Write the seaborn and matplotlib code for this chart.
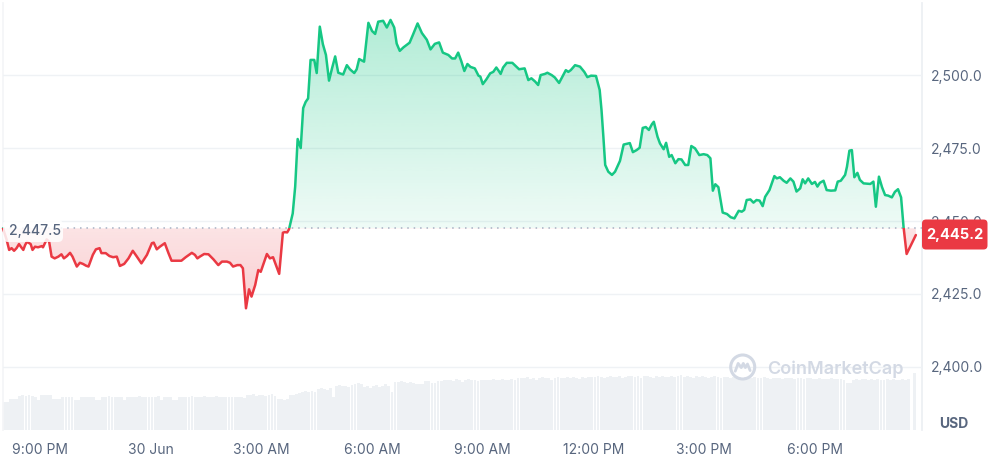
import numpy as np
import seaborn as sns
import matplotlib.pyplot as plt
from matplotlib.colors import to_rgb
from matplotlib.path import Path
from matplotlib.patches import Rectangle, FancyBboxPatch, Circle
from matplotlib.lines import Line2D

sns.set_theme(style="white")
plt.rcParams['font.family'] = ['Inter', 'DejaVu Sans']

# price trace, minutes after 8:00 PM (29 Jun)
minutes = [0, 6, 10, 14, 18, 22, 26, 29, 33, 36, 39, 45, 48, 52, 57, 63, 65, 71, 75, 79,
           84, 90, 95, 99, 104, 109, 113, 120, 125, 130, 135, 139, 146, 151, 157, 160, 167, 173, 179, 185,
           190, 197, 204, 211, 217, 225, 234, 242, 245, 250, 255, 263, 269, 274, 282, 290, 297, 307, 312, 316,
           320, 327, 334, 342, 350, 356, 364, 369, 374, 381, 386, 390, 395, 400, 404, 410, 415, 419, 429, 434,
           439, 449, 455, 458, 462, 465, 471, 475, 479, 484, 488, 492, 496, 500, 506, 510, 515, 520, 525, 530,
           535, 540, 545, 553, 559, 564, 571, 575, 579, 587, 594, 600, 605, 610, 618, 624, 630, 636, 640, 645,
           651, 661, 667, 674, 681, 689, 695, 702, 709, 715, 724, 730, 735, 740, 745, 750, 755, 760, 767, 773,
           776, 780, 786, 792, 797, 802, 806, 809, 813, 819, 828, 832, 839, 848, 854, 859, 865, 870, 874, 881,
           885, 892, 897, 904, 910, 915, 919, 923, 930, 938, 945, 950, 956, 964, 970, 973, 976, 979, 984, 990,
           995, 1003, 1009, 1019, 1024, 1030, 1035, 1040, 1045, 1050, 1055, 1058, 1064, 1068, 1074, 1078, 1083, 1087, 1093, 1098,
           1103, 1109, 1114, 1119, 1125, 1132, 1139, 1145, 1150, 1154, 1158, 1163, 1170, 1177, 1183, 1189, 1196, 1201, 1205, 1209,
           1215, 1220, 1225, 1230, 1235, 1239, 1246, 1254, 1258, 1263, 1269, 1274, 1280, 1285, 1290, 1296, 1300, 1304, 1309, 1315,
           1320, 1324, 1328, 1334, 1339, 1346, 1353, 1357, 1362, 1369, 1372, 1376, 1380, 1384, 1389, 1393, 1399, 1410, 1415, 1419,
           1424, 1429, 1434, 1439, 1445, 1450, 1455, 1460, 1464, 1469, 1484]
prices = [2447.5, 2443.5, 2440.1, 2440.7, 2439.8, 2440.7, 2442.1, 2441.2, 2440.1, 2441.8,
          2442.9, 2442.1, 2440.1, 2441.2, 2441.0, 2441.4, 2441.0, 2443.7, 2442.9, 2437.8,
          2437.2, 2437.8, 2438.6, 2437.2, 2438.0, 2439.1, 2437.8, 2434.4, 2435.7, 2435.3,
          2434.7, 2434.4, 2438.4, 2440.3, 2440.7, 2439.0, 2439.0, 2438.0, 2437.6, 2437.8,
          2434.6, 2435.3, 2437.2, 2439.8, 2438.0, 2435.5, 2438.4, 2442.4, 2442.6, 2440.3,
          2441.2, 2442.4, 2439.0, 2436.4, 2436.4, 2436.4, 2437.6, 2439.1, 2438.4, 2437.2,
          2437.8, 2438.7, 2438.6, 2436.9, 2434.9, 2436.1, 2436.1, 2435.7, 2434.4, 2434.9,
          2434.9, 2433.8, 2420.1, 2426.6, 2424.1, 2428.1, 2433.2, 2432.6, 2438.7, 2437.2,
          2437.6, 2431.9, 2446.0, 2446.2, 2446.1, 2447.2, 2452.6, 2461.8, 2478.1, 2475.0,
          2488.7, 2490.8, 2492.0, 2505.2, 2505.2, 2500.7, 2516.6, 2510.6, 2506.9, 2498.1,
          2502.4, 2506.4, 2500.8, 2500.2, 2503.4, 2502.0, 2500.7, 2502.0, 2505.5, 2504.6,
          2517.9, 2515.1, 2514.1, 2518.3, 2518.6, 2516.3, 2518.9, 2516.3, 2510.8, 2508.3,
          2509.5, 2511.1, 2514.1, 2517.7, 2514.4, 2512.1, 2508.8, 2510.7, 2511.2, 2507.7,
          2506.9, 2505.7, 2505.7, 2507.7, 2504.8, 2501.4, 2503.8, 2502.8, 2502.3, 2499.8,
          2499.5, 2496.9, 2498.6, 2500.6, 2501.1, 2502.6, 2501.4, 2500.4, 2502.6, 2504.2,
          2504.2, 2503.4, 2502.0, 2502.3, 2498.3, 2498.9, 2497.8, 2496.6, 2500.0, 2500.4,
          2500.8, 2500.0, 2499.2, 2497.3, 2499.7, 2501.7, 2501.1, 2501.7, 2503.4, 2502.9,
          2501.1, 2499.3, 2499.8, 2499.7, 2494.9, 2488.0, 2478.9, 2469.2, 2466.9, 2465.8,
          2466.9, 2470.6, 2476.2, 2476.7, 2473.6, 2474.3, 2475.1, 2481.9, 2482.2, 2481.2,
          2483.2, 2484.0, 2478.9, 2476.6, 2474.6, 2476.8, 2472.0, 2472.6, 2469.8, 2471.2,
          2471.1, 2469.2, 2469.2, 2475.7, 2474.9, 2472.6, 2472.9, 2472.6, 2471.5, 2460.4,
          2462.6, 2461.6, 2452.9, 2452.4, 2451.3, 2450.9, 2453.5, 2453.2, 2453.8, 2457.2,
          2457.4, 2456.3, 2457.2, 2457.0, 2455.1, 2458.3, 2460.6, 2465.4, 2464.6, 2465.0,
          2463.8, 2463.1, 2464.6, 2463.5, 2460.1, 2461.2, 2464.3, 2462.9, 2464.6, 2462.7,
          2463.4, 2461.8, 2463.1, 2463.8, 2460.6, 2460.4, 2460.5, 2463.5, 2463.8, 2465.8,
          2468.6, 2474.1, 2474.3, 2465.0, 2466.5, 2464.1, 2462.9, 2462.7, 2463.5, 2454.9,
          2465.2, 2461.6, 2458.9, 2458.7, 2458.1, 2460.0, 2460.9, 2458.1, 2448.0, 2438.7,
          2445.2]

# 5-minute volume bars (million USD), one row per hour
volume = [
    28, 28, 31, 31, 31, 34, 35, 34, 35, 34, 33, 30,
    35, 35, 35, 35, 31, 31, 31, 33, 33, 33, 33, 30,
    30, 33, 33, 33, 33, 33, 30, 30, 33, 33, 34, 33,
    33, 33, 33, 30, 33, 33, 33, 33, 34, 33, 33, 33,
    33, 33, 34, 30, 33, 33, 33, 30, 30, 33, 33, 33,
    33, 34, 33, 33, 33, 34, 33, 33, 33, 34, 33, 33,
    33, 33, 33, 33, 33, 33, 32, 35, 35, 36, 34, 35,
    35, 34, 35, 36, 34, 31, 31, 30, 31, 35, 35, 36,
    37, 38, 39, 38, 39, 38, 41, 42, 41, 40, 42, 33,
    44, 45, 44, 44, 43, 45, 46, 47, 46, 43, 44, 42,
    44, 45, 43, 44, 46, 44, 38, 48, 48, 49, 48, 47,
    48, 47, 46, 46, 46, 49, 49, 47, 47, 49, 49, 50,
    50, 50, 49, 51, 50, 48, 50, 51, 50, 50, 49, 50,
    50, 50, 50, 51, 50, 50, 51, 50, 50, 51, 50, 52,
    52, 52, 53, 51, 52, 50, 52, 53, 52, 52, 50, 52,
    53, 52, 52, 53, 52, 53, 52, 51, 53, 52, 53, 53,
    53, 54, 53, 52, 53, 54, 53, 53, 54, 52, 53, 54,
    54, 53, 54, 52, 54, 54, 53, 52, 54, 53, 54, 53,
    53, 54, 53, 54, 55, 53, 54, 53, 52, 54, 53, 54,
    53, 52, 53, 54, 53, 52, 53, 53, 52, 53, 54, 53,
    52, 53, 52, 52, 53, 52, 52, 53, 52, 51, 52, 52,
    52, 51, 52, 52, 52, 51, 52, 52, 51, 52, 52, 51,
    51, 52, 51, 51, 51, 52, 51, 51, 51, 50, 47, 47,
    50, 51, 50, 51, 51, 50, 51, 50, 51, 50, 50, 51,
    50, 51, 50, 50, 51, 50, 51, 0, 57,
]

open_price = 2447.5
last_price = 2445.2
tick_minutes = [60, 240, 420, 600, 780, 960, 1140, 1320]
tick_labels = ['9:00 PM', '30 Jun', '3:00 AM', '6:00 AM', '9:00 AM', '12:00 PM', '3:00 PM', '6:00 PM']
price_ticks = [2400, 2425, 2450, 2475, 2500]

green = '#16c784'
red = '#ea3943'
txt = '#58667e'
grid_c = '#eff2f5'

W, H = 992, 457
fig = plt.figure(figsize=(W / 100, H / 100), dpi=100)
ax = fig.add_axes([3 / W, 27 / H, 919 / W, 427 / H])
ax2 = ax.twinx()

xmin, xmax = 0, 1494

# volume (background axis)
bar_t = np.arange(len(volume)) * 5
ax.bar(bar_t, volume, width=4.6, align='edge', color='#eef1f4', linewidth=0)
ax.set_ylim(0, 427)
ax.set_yticks([])
ax.set_xlim(xmin, xmax)
ax.set_xticks(tick_minutes)
ax.set_xticklabels(tick_labels)
ax.tick_params(axis='x', length=0, pad=9, labelsize=10, labelcolor=txt)
for s in ['top', 'bottom']:
    ax.spines[s].set_visible(False)
ax.spines['left'].set_color('#f4f5f7')
ax.spines['right'].set_color('#eceff3')
for s in ax2.spines.values():
    s.set_visible(False)

# price
t = np.array(minutes, dtype=float)
p = np.array(prices)

poly = ax2.fill_between(t, p, open_price, color='none', linewidth=0)
clip = Path.make_compound_path(*poly.get_paths())

g_img = np.zeros((256, 1, 4))
g_img[..., :3] = to_rgb(green)
g_img[..., 3] = np.linspace(0.33, 0.07, 256)[:, None]
im_g = ax2.imshow(g_img, extent=[xmin, xmax, open_price, p.max()], aspect='auto',
                  origin='upper', zorder=1, interpolation='bilinear')
im_g.set_clip_path(clip, transform=ax2.transData)

r_img = np.zeros((256, 1, 4))
r_img[..., :3] = to_rgb(red)
r_img[..., 3] = np.linspace(0.14, 0.25, 256)[:, None]
im_r = ax2.imshow(r_img, extent=[xmin, xmax, p.min(), open_price], aspect='auto',
                  origin='upper', zorder=1, interpolation='bilinear')
im_r.set_clip_path(clip, transform=ax2.transData)

ax2.axhline(open_price, color='#a6b0c3', lw=1.1, ls=(0, (1, 3.2)), zorder=2)

sns.lineplot(x=t, y=p, ax=ax2, color=green, lw=1.8, zorder=3)
sns.lineplot(x=t, y=p, ax=ax2, color=red, lw=1.8, zorder=3)
above = Rectangle((-100, open_price), 2000, 500, transform=ax2.transData)
below = Rectangle((-100, open_price - 500), 2000, 500, transform=ax2.transData)
ax2.lines[-2].set_clip_path(above)
ax2.lines[-1].set_clip_path(below)

ax2.set_xlim(xmin, xmax)
ax2.set_ylim(2378.4, 2524.7)
ax2.set_yticks(price_ticks)
ax2.set_yticklabels([f'{v:,.1f}' for v in price_ticks])
ax2.yaxis.tick_right()
ax2.tick_params(axis='y', length=0, pad=6.5, labelsize=10, labelcolor=txt)
ax2.set_axisbelow(True)
ax2.grid(axis='y', color=grid_c, lw=1)
ax2.set_xlabel('')
ax2.set_ylabel('')

# labels outside the plot, in inches from bottom-left
inch = fig.dpi_scale_trans
fig.patches.append(FancyBboxPatch((3 / 100, (H - 242) / 100), 0.60, 0.22,
                                  boxstyle='round,pad=0,rounding_size=0.05',
                                  fc='white', ec='none', alpha=0.85, transform=inch, figure=fig))
fig.text(34.5 / W, 1 - 231 / H, f'{open_price:,.1f}', ha='center', va='center',
         fontsize=10, color=txt, fontweight='medium')

fig.patches.append(FancyBboxPatch((922 / 100, (H - 249.5) / 100), 0.655, 0.30,
                                  boxstyle='round,pad=0,rounding_size=0.04',
                                  fc=red, ec='none', transform=inch, figure=fig))
fig.text(955 / W, 1 - 234.5 / H, f'{last_price:,.1f}', ha='center', va='center',
         fontsize=10.5, color='white', fontweight='bold')

fig.text(954 / W, 1 - 424 / H, 'USD', ha='center', va='center',
         fontsize=10, color=txt, fontweight='bold')

# watermark
wm = '#d3d9e4'
cx, cy, r = 742.7 / 100, (H - 367) / 100, 0.12
fig.patches.append(Circle((cx, cy), r, fill=False, ec=wm, lw=2.2, transform=inch, figure=fig))
mx = np.array([-0.62, -0.38, -0.12, 0.05, 0.22, 0.40, 0.62]) * r + cx
my = np.array([-0.35, 0.30, -0.05, 0.30, -0.05, 0.25, -0.30]) * r + cy
fig.lines.append(Line2D(mx, my, color=wm, lw=2.0, transform=inch, figure=fig,
                        solid_joinstyle='round', solid_capstyle='round'))
fig.text(767 / W, 1 - 369 / H, 'CoinMarketCap', ha='left', va='center',
         fontsize=13, color=wm, fontweight='semibold')

fig.savefig('out.png', dpi=100)
